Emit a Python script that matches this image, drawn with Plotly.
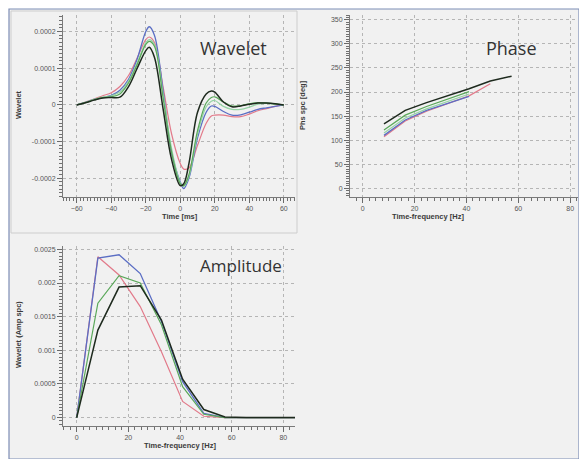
import plotly.graph_objects as go

# ---------------- data ----------------
wave_t = [-60, -55, -50, -45, -40, -35, -30, -25, -20, -18, -15, -10, -5, 0, 2, 5, 10, 15, 18, 20, 25, 30, 35, 40, 45, 50, 55, 60]
wave_blue = [0, 0.000007, 0.000015, 0.00002, 0.000026, 0.00004, 0.00007, 0.000125, 0.0002, 0.000213, 0.00019, 0.00004, -0.00013, -0.00021, -0.000228, -0.0002, -0.00009, -0.00002, -0.000003, -0.000004, -0.000018, -0.000028, -0.000027, -0.00002, -0.000012, -0.000008, -0.000004, 0]
wave_pink = [0, 0.000008, 0.000016, 0.000025, 0.000033, 0.00005, 0.00008, 0.000128, 0.000178, 0.000185, 0.00017, 0.00005, -0.00008, -0.00016, -0.000175, -0.000172, -0.00011, -0.00005, -0.00003, -0.000028, -0.000028, -0.000032, -0.000032, -0.000025, -0.000016, -0.00001, -0.000004, 0]
wave_teal = [0, 0.000007, 0.000015, 0.000021, 0.000025, 0.000035, 0.000065, 0.000115, 0.00017, 0.000178, 0.000165, 0.00003, -0.00012, -0.000212, -0.000222, -0.000195, -0.00008, -0.000005, 0.00001, 0.000012, -0.000004, -0.000012, -0.000012, -0.000006, 0.000002, 0.000004, 0.000002, 0]
wave_green = [0, 0.000006, 0.000014, 0.00002, 0.000022, 0.00003, 0.00006, 0.00011, 0.000165, 0.000173, 0.00016, 0.00002, -0.00013, -0.000215, -0.00022, -0.00019, -0.00007, 0.000005, 0.00002, 0.000022, 0.000008, -0.000003, -0.000002, 0.000003, 0.000006, 0.000005, 0.000003, 0]
wave_black = [0, 0.000006, 0.000013, 0.000019, 0.00002, 0.000021, 0.00005, 0.0001, 0.000148, 0.000157, 0.00013, -0.00001, -0.00015, -0.00022, -0.000215, -0.00016, -0.00002, 0.00003, 0.000038, 0.000035, 0.000008, -0.000005, -0.000003, 0.000002, 0.000005, 0.000005, 0.000003, 0]

phase_f = [8.2, 16.4, 24.6, 32.8, 41.0, 49.2, 57.4]
phase_black = [134, 162, 178, 192, 207, 223, 233]
phase_green = [121, 152, 170, 185, 201]
phase_teal = [115, 146, 165, 180, 196]
phase_blue = [110, 142, 162, 177, 191]
phase_pink = [107, 140, 160, 176, 192, 217]

amp_f = [0, 8.2, 16.4, 24.6, 32.8, 41.0, 49.2, 57.4, 65.6, 73.8, 82.0, 90.2]
amp_blue = [0, 0.00237, 0.00242, 0.00214, 0.00143, 0.000535, 0.000064, 0.0, 0.0, 0.0, 0.0, 0.0]
amp_pink = [0, 0.00239, 0.00212, 0.00165, 0.00098, 0.00024, 0.00002, 0.0, 0.0, 0.0, 0.0, 0.0]
amp_green = [0, 0.0017, 0.00211, 0.002, 0.00138, 0.00046, 0.00005, 0.0, 0.0, 0.0, 0.0, 0.0]
amp_black = [0, 0.0013, 0.00194, 0.00196, 0.00145, 0.00057, 0.00012, 0.00001, 0.0, -0.000005, -0.000005, 0.0]

wave_xticks = [-60, -40, -20, 0, 20, 40, 60]
wave_yticks = [0.0002, 0.0001, 0, -0.0001, -0.0002]
wave_ytext = ["0.0002", "0.0001", "0", "-0.0001", "-0.0002"]
freq_xticks = [0, 20, 40, 60, 80]
phase_yticks = [0, 50, 100, 150, 200, 250, 300, 350]
amp_yticks = [0.0025, 0.002, 0.0015, 0.001, 0.0005, 0]
amp_ytext = ["0.0025", "0.002", "0.0015", "0.001", "0.0005", "0"]

# ---------------- style ----------------
W, H = 579, 459
BLUE = "#5b6ec4"
PINK = "#e27a8a"
GREEN = "#5aa85a"
TEAL = "#96d4a6"
BLACK = "#1e2a1e"
FONT = "Liberation Sans"


def px(x):
    return x / W


def py(y):
    return 1 - y / H


def minor_vals(lo, hi, step):
    n = int(round((hi - lo) / step))
    return [lo + i * step for i in range(n + 1)]


fig = go.Figure()


def add(x, y, color, xa, ya, width=1.3, shape="linear"):
    fig.add_trace(go.Scatter(x=x, y=y, mode="lines", xaxis=xa, yaxis=ya,
                             line=dict(color=color, width=width, shape=shape),
                             showlegend=False, hoverinfo="skip"))


for ys, c, w in [(wave_pink, PINK, 1.2), (wave_blue, BLUE, 1.3), (wave_teal, TEAL, 1.2),
                 (wave_green, GREEN, 1.2), (wave_black, BLACK, 1.5)]:
    add(wave_t, ys, c, "x", "y", w, "spline")

for ys, c, w in [(phase_pink, PINK, 1.2), (phase_blue, BLUE, 1.3), (phase_teal, TEAL, 1.2),
                 (phase_green, GREEN, 1.2), (phase_black, BLACK, 1.5)]:
    add(phase_f[:len(ys)], ys, c, "x2", "y2", w)

for ys, c, w in [(amp_pink, PINK, 1.2), (amp_blue, BLUE, 1.3),
                 (amp_green, GREEN, 1.2), (amp_black, BLACK, 1.5)]:
    add(amp_f, ys, c, "x3", "y3", w)

common = dict(showgrid=True, gridcolor="#b5b5b5", griddash="dot", gridwidth=1,
              showline=True, linecolor="#7a7a7a", linewidth=1, zeroline=False,
              ticks="outside", ticklen=5, tickcolor="#6a6a6a",
              tickfont=dict(family=FONT, size=7, color="#555555"))


def minor(vals):
    return dict(tickmode="array", tickvals=vals, ticks="outside", ticklen=3,
                tickcolor="#707070", tickwidth=1, showgrid=False)


xdom_l = [px(63), px(295)]
xdom_r = [px(350), px(578)]
ydom_t = [py(197), py(15)]
ydom_b = [py(425.7), py(246)]

fig.update_layout(
    width=W, height=H, margin=dict(l=0, r=0, t=0, b=0),
    paper_bgcolor="white", plot_bgcolor="rgba(0,0,0,0)",
    xaxis=dict(domain=xdom_l, anchor="y", range=[-68, 66.5], tickmode="array",
               tickvals=wave_xticks, minor=minor(minor_vals(-68, 66, 2)), **common),
    yaxis=dict(domain=ydom_t, anchor="x", range=[-0.000251, 0.000245], tickmode="array",
               tickvals=wave_yticks, ticktext=wave_ytext,
               minor=minor(minor_vals(-0.00025, 0.00024, 0.00001)), **common),
    xaxis2=dict(domain=xdom_r, anchor="y2", range=[-4.9, 83], tickmode="array",
                tickvals=freq_xticks, minor=minor(minor_vals(-2.5, 82.5, 2.5)), **common),
    yaxis2=dict(domain=ydom_t, anchor="x2", range=[-18, 360], tickmode="array",
                tickvals=phase_yticks, minor=minor(minor_vals(-15, 360, 5)), **common),
    xaxis3=dict(domain=xdom_l, anchor="y3", range=[-5.3, 84.5], tickmode="array",
                tickvals=freq_xticks, minor=minor(minor_vals(-5, 82.5, 2.5)), **common),
    yaxis3=dict(domain=ydom_b, anchor="x3", range=[-0.00012, 0.00255], tickmode="array",
                tickvals=amp_yticks, ticktext=amp_ytext,
                minor=minor(minor_vals(-0.0001, 0.0025, 0.00005)), **common),
)

# frame and panel borders
fig.add_shape(type="rect", xref="paper", yref="paper", x0=px(9), x1=px(579), y0=py(459), y1=py(9),
              fillcolor="#f1f1f1", line=dict(color="#7d8db5", width=1.2), layer="below")
fig.add_shape(type="rect", xref="paper", yref="paper", x0=px(11), x1=px(297), y0=py(233), y1=py(11),
              fillcolor="rgba(0,0,0,0)", line=dict(color="#cdcdcd", width=1), layer="below")

annots = [
    dict(text="Wavelet", x=px(233), y=py(48), size=18, bold=False, angle=0),
    dict(text="Phase", x=px(511), y=py(48), size=18, bold=False, angle=0),
    dict(text="Amplitude", x=px(241), y=py(265), size=17, bold=False, angle=0),
    dict(text="<b>Wavelet</b>", x=px(19), y=py(105), size=7.5, bold=True, angle=-90),
    dict(text="<b>Time [ms]</b>", x=px(180), y=py(216), size=7.5, bold=True, angle=0),
    dict(text="<b>Phs spc [deg]</b>", x=px(303), y=py(105), size=7.5, bold=True, angle=-90),
    dict(text="<b>Time-frequency [Hz]</b>", x=px(428), y=py(216), size=7.5, bold=True, angle=0),
    dict(text="<b>Wavelet (Amp spc)</b>", x=px(18), y=py(335), size=7.5, bold=True, angle=-90),
    dict(text="<b>Time-frequency [Hz]</b>", x=px(180), y=py(445), size=7.5, bold=True, angle=0),
]
for a in annots:
    fig.add_annotation(text=a["text"], x=a["x"], y=a["y"], xref="paper", yref="paper",
                       showarrow=False, textangle=a["angle"], xanchor="center", yanchor="middle",
                       font=dict(family="Open Sans" if not a["bold"] else FONT,
                                 size=a["size"], color="#333333" if not a["bold"] else "#3a3a3a"))

fig.write_html("out.html")
